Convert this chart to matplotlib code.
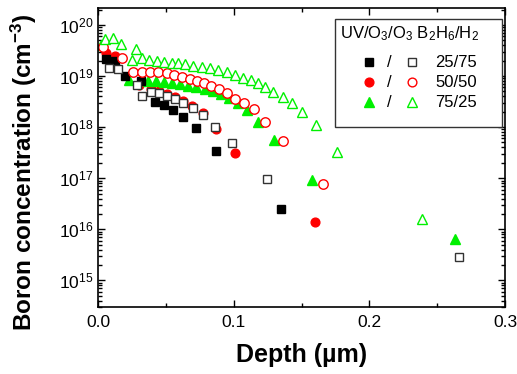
import numpy as np
import matplotlib
matplotlib.use("Agg")
import matplotlib.pyplot as plt
from matplotlib.patches import Rectangle

plt.rcParams['font.family'] = ['Liberation Sans', 'DejaVu Sans']
plt.rcParams['mathtext.fontset'] = 'custom'
plt.rcParams['mathtext.rm'] = 'Liberation Sans'
plt.rcParams['mathtext.it'] = 'Liberation Sans:italic'
plt.rcParams['mathtext.bf'] = 'Liberation Sans:bold'

# SIMS boron profiles, depth in um, log10 of concentration in cm^-3
# 25/75 B2H6/H2
sq_fill_x = [0.0059, 0.0125, 0.0199, 0.0317, 0.042, 0.0486, 0.0553, 0.0626, 0.0722, 0.0866, 0.1346]
sq_fill_y = [19.33, 19.29, 19.00, 18.90, 18.49, 18.43, 18.33, 18.19, 17.99, 17.54, 16.39]
sq_open_x = [0.0081, 0.0144, 0.0287, 0.0322, 0.0392, 0.0448, 0.0506, 0.0567, 0.0626, 0.0698,
             0.0774, 0.0862, 0.099, 0.1243, 0.266]
sq_open_y = [19.15, 19.14, 18.82, 18.60, 18.69, 18.66, 18.61, 18.55, 18.47, 18.37,
             18.23, 18.01, 17.68, 16.98, 15.45]

# 50/50 B2H6/H2
ci_fill_x = [0.0059, 0.0125, 0.0302, 0.0391, 0.045, 0.0508, 0.0567, 0.0626, 0.0693, 0.0774,
             0.087, 0.101, 0.16]
ci_fill_y = [19.45, 19.39, 18.82, 18.75, 18.71, 18.65, 18.59, 18.51, 18.41, 18.27,
             17.96, 17.50, 16.14]
ci_open_x = [0.0037, 0.0175, 0.0256, 0.0322, 0.0383, 0.0444, 0.0506, 0.056, 0.0619, 0.0678,
             0.0729, 0.0781, 0.0833, 0.0891, 0.095, 0.1009, 0.1076, 0.115, 0.1234, 0.1366, 0.1656]
ci_open_y = [19.57, 19.35, 19.08, 19.08, 19.08, 19.07, 19.05, 19.03, 18.98, 18.94,
             18.90, 18.86, 18.80, 18.75, 18.67, 18.56, 18.47, 18.35, 18.10, 17.73, 16.88]

# 75/25 B2H6/H2
tr_fill_x = [0.0022, 0.0228, 0.031, 0.0368, 0.0427, 0.0486, 0.0545, 0.0604, 0.0663, 0.0722,
             0.0788, 0.0847, 0.0906, 0.0965, 0.1032, 0.1098, 0.1179, 0.1297, 0.1575, 0.2631]
tr_fill_y = [19.61, 18.92, 18.92, 18.91, 18.90, 18.88, 18.86, 18.84, 18.81, 18.78,
             18.75, 18.71, 18.65, 18.57, 18.47, 18.33, 18.10, 17.75, 16.96, 15.80]
tr_open_x = [0.0052, 0.0111, 0.017, 0.0248, 0.0278, 0.0322, 0.0378, 0.0433, 0.0486, 0.0543,
             0.0592, 0.0641, 0.0702, 0.0764, 0.0825, 0.0887, 0.0948, 0.101, 0.107, 0.1125,
             0.118, 0.1234, 0.1292, 0.1361, 0.1427, 0.1506, 0.1606, 0.1763, 0.2385]
tr_open_y = [19.73, 19.745, 19.63, 19.31, 19.53, 19.35, 19.31, 19.30, 19.28, 19.26,
             19.25, 19.23, 19.20, 19.18, 19.15, 19.12, 19.07, 19.02, 18.97, 18.92,
             18.87, 18.78, 18.69, 18.59, 18.48, 18.30, 18.05, 17.52, 16.20]

ratios = ['25/75', '50/50', '75/25']

green = '#00f000'
fig = plt.figure(figsize=(5.17, 3.74), dpi=100)
ax = fig.add_axes([0.1896, 0.1791, 0.7872, 0.7995])

ms = 6.3
ax.plot(ci_fill_x, 10 ** np.array(ci_fill_y), 'o', color='#ff0000', ms=ms, mec='#ff0000', ls='none')
ax.plot(tr_fill_x, 10 ** np.array(tr_fill_y), '^', color=green, ms=ms + 1.6, mec=green, ls='none')
ax.plot(sq_fill_x, 10 ** np.array(sq_fill_y), 's', color='black', ms=ms, mec='black', ls='none')
ax.plot(sq_open_x, 10 ** np.array(sq_open_y), 's', mfc='white', mec='#333333', mew=1.0, ms=ms, ls='none')
ax.plot(ci_open_x, 10 ** np.array(ci_open_y), 'o', mfc='white', mec='#ff0000', mew=1.0, ms=ms + 0.5, ls='none')
ax.plot(tr_open_x, 10 ** np.array(tr_open_y), '^', mfc='white', mec=green, mew=1.0, ms=ms + 1.6, ls='none')

ax.set_yscale('log')
ax.set_xlim(0, 0.3)
ax.set_ylim(3e14, 2.15e20)
ax.set_xticks([0.0, 0.1, 0.2, 0.3])
ax.set_xticklabels(['0.0', '0.1', '0.2', '0.3'])
ax.set_xticks([0.05, 0.15, 0.25], minor=True)
ax.set_yticks([10.0 ** k for k in range(15, 21)])
ax.tick_params(which='both', direction='in', top=True, right=True, labelsize=12.5, width=1)
ax.tick_params(which='major', length=5)
ax.tick_params(which='minor', length=3)
ax.tick_params(axis='x', pad=6)
for s in ax.spines.values():
    s.set_linewidth(1.2)

ax.set_xlabel('Depth (\u00b5m)', fontsize=18, fontweight='bold', labelpad=9)
ax.set_ylabel('Boron concentration (cm$^{\\mathbf{-3}}$)', fontsize=17.5, fontweight='bold')
ax.yaxis.set_label_coords(-0.145, 0.45)

# legend drawn by hand: filled / open pairs per gas ratio
box = Rectangle((0.5823, 0.6022), 0.4103, 0.3612, transform=ax.transAxes,
                fill=True, fc='white', ec='#333333', lw=1.0, zorder=5)
ax.add_patch(box)
ax.text(0.936, 0.915, 'UV/O$_3$/O$_3$ B$_2$H$_6$/H$_2$', transform=ax.transAxes,
        ha='right', va='center', fontsize=12, zorder=6)
row_y = [0.818, 0.751, 0.684]
fills = [('s', 'black', '#333333', ms), ('o', '#ff0000', '#ff0000', ms), ('^', green, green, ms + 1.6)]
for (m, fc, ec, size), y, r in zip(fills, row_y, ratios):
    ax.plot([0.6667], [y], m, color=fc, mec=fc, ms=size, transform=ax.transAxes, clip_on=False, zorder=6)
    ax.text(0.7158, y, '/', transform=ax.transAxes, ha='center', va='center', fontsize=12, zorder=6)
    ax.plot([0.7707], [y], m, mfc='white', mec=ec, mew=1.0, ms=size, transform=ax.transAxes,
            clip_on=False, zorder=6)
    ax.text(0.8280, y, r, transform=ax.transAxes, ha='left', va='center', fontsize=12, zorder=6)

fig.savefig('out.png', dpi=100)
